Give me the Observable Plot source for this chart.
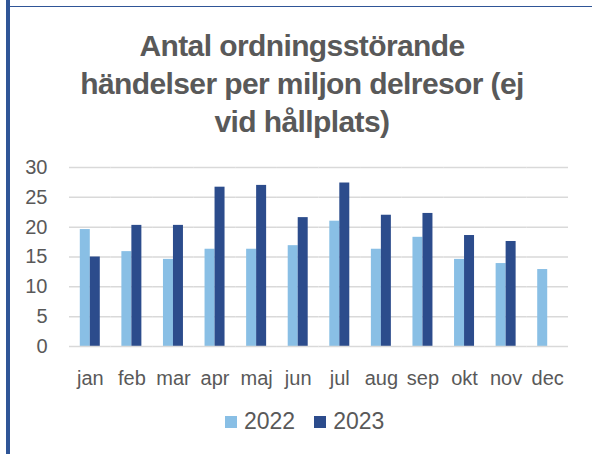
<!DOCTYPE html>
<html>
<head>
<meta charset="utf-8">
<script src="https://cdn.jsdelivr.net/npm/d3@7"></script>
<script src="https://cdn.jsdelivr.net/npm/@observablehq/plot@0.6"></script>
<style>
  html, body { margin: 0; padding: 0; background: #fff; }
  #wrap { position: relative; width: 592px; height: 454px; overflow: hidden; background: #fff; }
  #lborder { position: absolute; left: 6px; top: 0; width: 4px; height: 454px; background: #2F5597; }
  #tborder { position: absolute; left: 10px; top: 6px; right: 0; height: 1px; background: #2F5597; }
  #title { position: absolute; left: 0; width: 604px; top: 27px; text-align: center;
    font-family: "Liberation Sans Narrow", "Liberation Sans", Arial, sans-serif; font-weight: bold;
    font-size: 30px; line-height: 38px; color: #595959; letter-spacing: -0.6px; }
  #chart { position: absolute; left: 0; top: 150px; }
  #legend { position: absolute; top: 408px; left: 225px; display: flex; align-items: center;
    font-family: "Liberation Sans", Arial, sans-serif; font-size: 23px; color: #595959; }
  .sw { display: inline-block; width: 12px; height: 12px; margin-right: 7px; }
  .item { display: flex; align-items: center; margin-right: 19px; }
</style>
</head>
<body>
<div id="wrap">
  <div id="lborder"></div>
  <div id="tborder"></div>
  <div id="title">Antal ordningsstörande<br>händelser per miljon delresor (ej<br>vid hållplats)</div>
  <div id="chart"></div>
  <div id="legend"></div>
</div>
<script>
const months = ["jan","feb","mar","apr","maj","jun","jul","aug","sep","okt","nov","dec"];
const years = ["2022","2023"];
const values2022 = [19.6, 15.9, 14.6, 16.3, 16.3, 16.9, 21.0, 16.3, 18.3, 14.6, 13.9, 12.9];
const values2023 = [15.0, 20.3, 20.3, 26.7, 27.0, 21.6, 27.4, 22.0, 22.3, 18.6, 17.6, null];
const yTicks = [0, 5, 10, 15, 20, 25, 30];
const colors = ["#89BFE5", "#2C4C8C"];

const data = [];
months.forEach((m, i) => {
  if (values2022[i] != null) data.push({month: m, year: "2022", value: values2022[i]});
  if (values2023[i] != null) data.push({month: m, year: "2023", value: values2023[i]});
});

const chart = Plot.plot({
  width: 592,
  height: 240,
  marginTop: 17,
  marginBottom: 44,
  marginLeft: 69,
  marginRight: 24,
  style: {fontFamily: "'Liberation Sans', Arial, sans-serif", fontSize: "20px", color: "#595959", background: "transparent"},
  fx: {domain: months, padding: 0, round: false, axis: "bottom", label: null, tickSize: 0, tickPadding: 24},
  x: {domain: years, axis: null, round: false, paddingInner: 0, paddingOuter: 1.08},
  y: {domain: [0, 30], ticks: yTicks, label: null, tickSize: 0, tickPadding: 22},
  color: {domain: years, range: colors},
  marks: [
    Plot.ruleY(yTicks.filter(d => d > 0), {stroke: "#d9d9d9", strokeWidth: 1.5}),
    Plot.barY(data, {fx: "month", x: "year", y: "value", fill: "year"}),
    Plot.ruleY([0], {stroke: "#d9d9d9", strokeWidth: 1.5})
  ]
});
document.getElementById("chart").appendChild(chart);

const legend = document.getElementById("legend");
years.forEach((y, i) => {
  const it = document.createElement("div");
  it.className = "item";
  const sw = document.createElement("span");
  sw.className = "sw";
  sw.style.background = colors[i];
  it.appendChild(sw);
  it.appendChild(document.createTextNode(y));
  legend.appendChild(it);
});
</script>
</body>
</html>
